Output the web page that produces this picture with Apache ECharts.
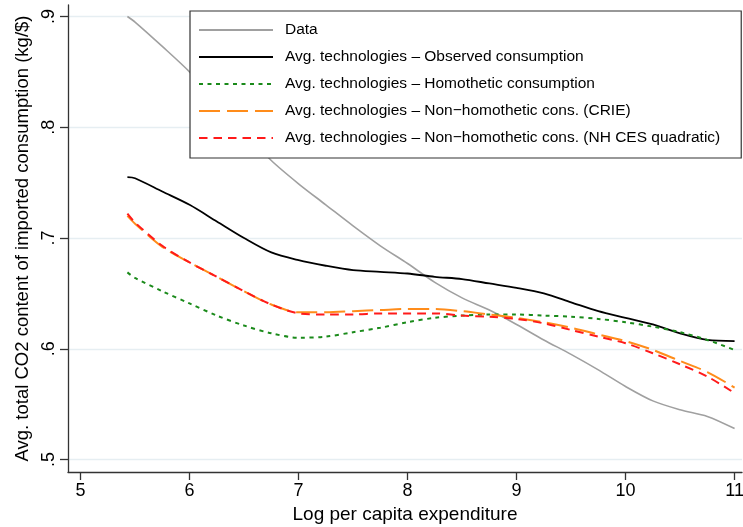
<!DOCTYPE html>
<html>
<head>
<meta charset="utf-8">
<script src="https://cdn.jsdelivr.net/npm/echarts@6/dist/echarts.min.js"></script>
<style>
  html, body { margin: 0; padding: 0; background: #fff; }
  #chart { width: 743px; height: 527px; }
</style>
</head>
<body>
<div id="chart"></div>
<script>
// Log per capita expenditure (x) at which each curve is evaluated
const logExpenditure = [5.43, 5.5, 5.75, 6.0, 6.25, 6.5, 6.75, 7.0, 7.25, 7.5, 7.75, 8.0,
  8.25, 8.5, 8.75, 9.0, 9.25, 9.5, 9.75, 10.0, 10.25, 10.5, 10.75, 11.0];

// Avg. total CO2 content of imported consumption (kg/$)
const dataValues = [0.900, 0.895, 0.873, 0.850, 0.823, 0.796, 0.770, 0.749, 0.730, 0.711, 0.693, 0.677,
  0.660, 0.646, 0.635, 0.622, 0.608, 0.595, 0.581, 0.566, 0.553, 0.545, 0.539, 0.528];
const observedValues = [0.755, 0.754, 0.742, 0.730, 0.715, 0.700, 0.687, 0.680, 0.675, 0.671, 0.6695, 0.668,
  0.665, 0.663, 0.659, 0.655, 0.650, 0.642, 0.634, 0.628, 0.622, 0.614, 0.608, 0.607];
const homotheticValues = [0.669, 0.664, 0.652, 0.641, 0.630, 0.621, 0.614, 0.610, 0.611, 0.615, 0.619, 0.624,
  0.628, 0.630, 0.631, 0.631, 0.630, 0.629, 0.627, 0.624, 0.620, 0.615, 0.608, 0.599];
const crieValues = [0.720, 0.713, 0.692, 0.678, 0.665, 0.652, 0.640, 0.633, 0.633, 0.634, 0.635, 0.636,
  0.636, 0.634, 0.631, 0.628, 0.624, 0.619, 0.613, 0.607, 0.599, 0.589, 0.579, 0.565];
const nhCesValues = [0.722, 0.714, 0.693, 0.678, 0.665, 0.652, 0.640, 0.632, 0.631, 0.631, 0.632, 0.632,
  0.632, 0.630, 0.629, 0.627, 0.623, 0.617, 0.611, 0.605, 0.596, 0.586, 0.575, 0.560];

// Axis ticks and labels
const xTicks = [5, 6, 7, 8, 9, 10, 11];
const yTicks = [0.5, 0.6, 0.7, 0.8, 0.9];

const seriesNames = [
  'Data',
  'Avg. technologies \u2013 Observed consumption',
  'Avg. technologies \u2013 Homothetic consumption',
  'Avg. technologies \u2013 Non\u2212homothetic cons. (CRIE)',
  'Avg. technologies \u2013 Non\u2212homothetic cons. (NH CES quadratic)'
];

const FONT = '"Liberation Sans", Arial, Helvetica, sans-serif';
const pairs = ys => logExpenditure.map((x, i) => [x, ys[i]]);

function lineSeries(name, ys, color, width, type) {
  return {
    name, type: 'line', data: pairs(ys),
    showSymbol: false, symbol: 'none', smooth: 0.3,
    lineStyle: { color, width, type },
    itemStyle: { color },
    emphasis: { disabled: true },
    animation: false
  };
}

const chart = echarts.init(document.getElementById('chart'), null, { renderer: 'canvas' });
chart.setOption({
  backgroundColor: '#ffffff',
  animation: false,
  textStyle: { fontFamily: FONT },
  grid: { left: 68, right: 1, top: 5, bottom: 55, containLabel: false, outerBoundsMode: 'none' },
  xAxis: {
    type: 'value', min: 4.885, max: 11.068,
    name: 'Log per capita expenditure', nameLocation: 'middle', nameGap: 32,
    nameTextStyle: { fontSize: 19, color: '#000', fontFamily: FONT },
    axisLine: { show: true, onZero: false, lineStyle: { color: '#333', width: 1.3 } },
    axisTick: { show: true, length: 8, customValues: xTicks, lineStyle: { color: '#333', width: 1.3 } },
    axisLabel: { customValues: xTicks, fontSize: 18, color: '#000', margin: 10, fontFamily: FONT },
    splitLine: { show: false }
  },
  yAxis: {
    type: 'value', min: 0.4888, max: 0.9104,
    name: 'Avg. total CO2 content of imported consumption (kg/$)',
    nameLocation: 'middle', nameGap: 28, nameRotate: 90,
    nameTextStyle: { fontSize: 18.5, color: '#000', fontFamily: FONT },
    axisLine: { show: true, onZero: false, lineStyle: { color: '#333', width: 1.3 } },
    axisTick: { show: true, length: 8, customValues: yTicks, lineStyle: { color: '#333', width: 1.3 } },
    axisLabel: {
      customValues: yTicks, rotate: 90, fontSize: 18, color: '#000', margin: 10, fontFamily: FONT,
      formatter: v => Number(v).toFixed(1).replace(/^0/, '')
    },
    splitLine: { show: true, lineStyle: { color: '#e6eef2', width: 1.3 } }
  },
  legend: {
    show: true, orient: 'vertical', left: 190, top: 11,
    data: seriesNames,
    itemWidth: 74, itemHeight: 14, itemGap: 11,
    padding: [11, 21, 12, 8],
    backgroundColor: '#ffffff', borderColor: '#333', borderWidth: 1.2,
    itemStyle: { opacity: 0 },
    textStyle: { fontSize: 15.5, color: '#000', fontFamily: FONT, padding: [0, 0, 0, 7] },
    selectedMode: false
  },
  series: [
    lineSeries(seriesNames[0], dataValues, '#a0a0a0', 1.6, 'solid'),
    lineSeries(seriesNames[1], observedValues, '#000000', 1.8, 'solid'),
    lineSeries(seriesNames[2], homotheticValues, '#1a8a1a', 2, [4, 4.5]),
    lineSeries(seriesNames[3], crieValues, '#ff8c1a', 2, [21, 7]),
    lineSeries(seriesNames[4], nhCesValues, '#ff1a1a', 2, [8.5, 6])
  ]
});
</script>
</body>
</html>
